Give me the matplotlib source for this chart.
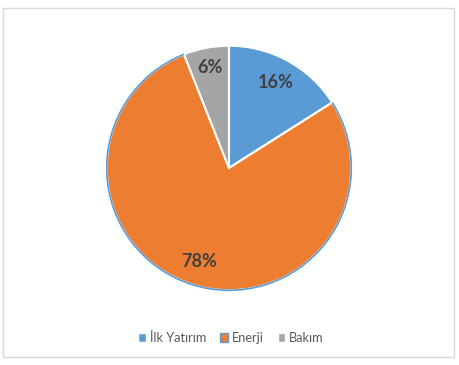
import matplotlib.pyplot as plt
from matplotlib.patches import Rectangle, Arc

labels = ['İlk Yatırım', 'Enerji', 'Bakım']
shares = [16, 78, 6]
colors = ['#5B9BD5', '#ED7D31', '#A5A5A5']

plt.rcParams['font.family'] = ['Lato', 'DejaVu Sans']

W, H = 459, 365
fig = plt.figure(figsize=(W / 100, H / 100), dpi=100)

# chart border
fig.patches.append(Rectangle((3 / W, 1 - 357 / H), 451 / W, 349 / H,
                             transform=fig.transFigure, fill=False,
                             edgecolor='#D9D9D9', lw=1))

# pie area: center (229,168), radius ~123.5 px
ax = fig.add_axes([105.5 / W, 73.5 / H, 247 / W, 247 / H])
wedges, texts, autotexts = ax.pie(
    shares, colors=colors, startangle=90, counterclock=False,
    autopct='%d%%', pctdistance=0.8,
    wedgeprops=dict(edgecolor='white', linewidth=1.5),
    textprops=dict(color='#404040', fontsize=13, fontweight='bold'))
# small slice label sits a bit further out
x, y = autotexts[2].get_position()
autotexts[2].set_position((x * 1.05, y * 1.05))

# orange slice has a thin blue outline on its rim
w = wedges[1]
ax.add_patch(Arc((0, 0), 2, 2, theta1=w.theta1, theta2=w.theta2,
                 color='#5B9BD5', lw=1.2))
ax.set_xlim(-1.01, 1.01)
ax.set_ylim(-1.01, 1.01)
ax.set_aspect('equal')
ax.axis('off')

handles = [Rectangle((0, 0), 1, 1, facecolor=c, edgecolor='white') for c in colors]
handles[1].set_edgecolor('#5B9BD5')
fig.legend(handles, labels, loc='center', bbox_to_anchor=(231 / W, 1 - 338 / H),
           ncol=3, frameon=False, handlelength=0.6, handleheight=0.6,
           handletextpad=0.3, columnspacing=1.1,
           prop=dict(size=9.2), labelcolor='#595959')

fig.savefig('out.png', dpi=100)
